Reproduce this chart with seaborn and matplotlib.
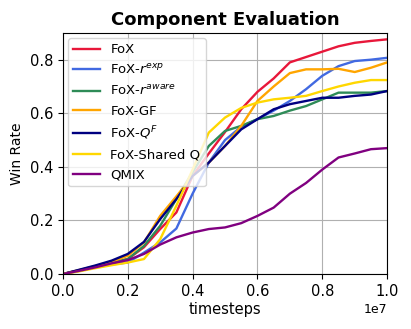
import pandas as pd
import matplotlib.pyplot as plt
import seaborn as sns

# timesteps (x 1e7) and win rates
steps = [0.0, 0.05, 0.1, 0.15, 0.2, 0.25, 0.3, 0.35, 0.4, 0.45, 0.5,
         0.55, 0.6, 0.65, 0.7, 0.75, 0.8, 0.85, 0.9, 0.95, 1.0]

fox = [0, 0.014, 0.028, 0.042, 0.056, 0.10, 0.168, 0.23, 0.366, 0.45, 0.53,
       0.615, 0.68, 0.73, 0.79, 0.81, 0.83, 0.85, 0.863, 0.87, 0.876]
fox_rexp = [0, 0.012, 0.025, 0.036, 0.043, 0.08, 0.118, 0.17, 0.30, 0.416, 0.50,
            0.55, 0.578, 0.61, 0.646, 0.69, 0.74, 0.776, 0.795, 0.80, 0.807]
fox_raware = [0, 0.014, 0.028, 0.042, 0.056, 0.105, 0.18, 0.28, 0.38, 0.478, 0.534,
              0.553, 0.578, 0.59, 0.61, 0.627, 0.652, 0.677, 0.677, 0.677, 0.683]
fox_gf = [0, 0.015, 0.03, 0.046, 0.068, 0.118, 0.217, 0.29, 0.366, 0.416, 0.478,
          0.553, 0.646, 0.70, 0.75, 0.764, 0.764, 0.766, 0.754, 0.77, 0.79]
fox_qf = [0, 0.016, 0.032, 0.05, 0.075, 0.12, 0.205, 0.28, 0.366, 0.416, 0.478,
          0.54, 0.578, 0.615, 0.634, 0.646, 0.658, 0.658, 0.665, 0.67, 0.683]
fox_shared = [0, 0.01, 0.022, 0.033, 0.043, 0.056, 0.13, 0.255, 0.39, 0.528, 0.584,
              0.62, 0.64, 0.652, 0.658, 0.665, 0.683, 0.70, 0.714, 0.724, 0.724]
qmix = [0, 0.012, 0.025, 0.04, 0.052, 0.075, 0.11, 0.137, 0.155, 0.168, 0.174,
        0.19, 0.217, 0.248, 0.30, 0.34, 0.39, 0.435, 0.45, 0.466, 0.47]

methods = ["FoX", r"FoX-$r^{exp}$", r"FoX-$r^{aware}$", "FoX-GF",
           r"FoX-$Q^F$", "FoX-Shared Q", "QMIX"]
colors = ["#e8173a", "#4169e1", "#2e8b57", "#ffa500", "#000080", "#ffd700", "#800080"]
series = [fox, fox_rexp, fox_raware, fox_gf, fox_qf, fox_shared, qmix]

rows = []
for name, vals in zip(methods, series):
    for s, v in zip(steps, vals):
        rows.append({"timesteps": s * 1e7, "Win Rate": v, "method": name})
df = pd.DataFrame(rows)

fig, ax = plt.subplots(figsize=(4.11, 3.29), dpi=100)
sns.lineplot(data=df, x="timesteps", y="Win Rate", hue="method",
             hue_order=methods, palette=colors, linewidth=1.7, ax=ax)

ax.set_xlim(0, 1e7)
ax.set_ylim(0, 0.9)
ax.set_yticks([0.0, 0.2, 0.4, 0.6, 0.8])
ax.grid(True, color="#b0b0b0", linewidth=0.8)
ax.set_title("Component Evaluation", fontsize=13, fontweight="bold")
ax.set_xlabel("timesteps", fontsize=10.5, labelpad=2)
ax.set_ylabel("Win Rate", fontsize=10)
ax.tick_params(labelsize=10.5)
ax.xaxis.get_offset_text().set_fontsize(9)
ax.legend(loc="upper left", fontsize=9.5, title=None, borderaxespad=0.4)

plt.subplots_adjust(left=0.153, right=0.942, top=0.9, bottom=0.167)
plt.savefig("out.png")
